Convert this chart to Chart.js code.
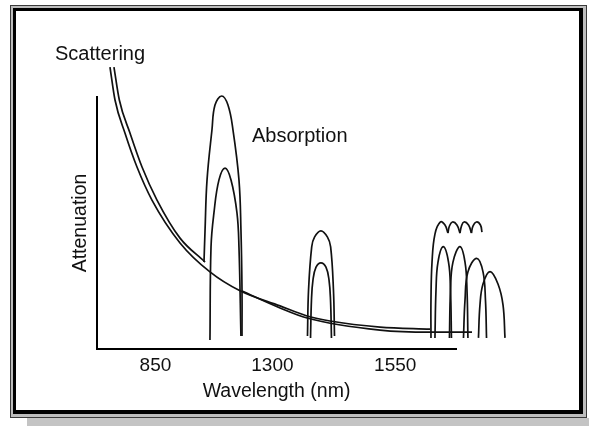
<!DOCTYPE html>
<html>
<head>
<meta charset="utf-8">
<script src="https://cdn.jsdelivr.net/npm/chart.js@4/dist/chart.umd.min.js"></script>
<style>
  html, body { margin: 0; padding: 0; background: #fff; overflow: hidden; }
  #stage { position: relative; width: 589px; height: 426px; }
  .shadow { position: absolute; left: 27px; top: 418px; width: 562px; height: 8px; background: #c4c4c4; }
  .outer { position: absolute; left: 10px; top: 5px; width: 577px; height: 413px; box-sizing: border-box;
           border: 1px solid #3a3a3a; background: #bdbdbd; }
  .inner { position: absolute; left: 13px; top: 8px; width: 570px; height: 406px; box-sizing: border-box;
           border-style: solid; border-color: #000; border-width: 3px 4px 4px 3px; background: #fff; }
  canvas { position: absolute; left: 0; top: 0; }
</style>
</head>
<body>
<div id="stage">
  <div class="shadow"></div>
  <div class="outer"></div>
  <div class="inner"></div>
  <canvas id="c" width="589" height="426"></canvas>
</div>
<script>
// ---- Tick labels (schematic wavelength axis) ----
const tickPositions = [1, 2, 3.05];
const tickLabels = ['850', '1300', '1550'];
const xTitle = 'Wavelength (nm)';
const yTitle = 'Attenuation';
const noteTexts = ['Scattering', 'Absorption'];

// ---- Scattering curves (x: schematic position, y: attenuation, arbitrary units) ----
const scatterUpper = [[0.645,111.9],[0.691,98.8],[0.782,85.7],[0.885,72.2],[1.013,59.1],[1.210,44.0],[1.424,34.5]];
const scatterLower = [[0.611,111.9],[0.654,98.8],[0.739,85.7],[0.842,72.2],[0.970,59.1],[1.210,42.1],[1.466,30.6],[1.723,23.1],[2.065,17.1],[2.296,13.1],[2.492,11.1],[2.920,8.7],[3.348,7.9]];
const scatterTail  = [[1.740,23.0],[2.065,16.3],[2.296,12.3],[2.920,7.5],[3.348,6.7],[3.707,6.7]];

// ---- Absorption peaks ----
const peak1Outer = [[1.415,34.5],[1.424,47.2],[1.441,67.1],[1.483,86.9],[1.509,96.8],[1.566,100.4],[1.620,96.8],[1.663,86.9],[1.714,67.1],[1.731,47.2],[1.740,23.4],[1.740,5.2]];
const peak1Inner = [[1.466,3.6],[1.475,40.5],[1.500,54.0],[1.543,67.1],[1.595,71.8],[1.646,67.1],[1.697,54.0],[1.714,40.5],[1.731,5.2]];
const peak2Outer = [[2.300,5.2],[2.309,23.4],[2.336,40.5],[2.360,44.4],[2.415,46.9],[2.471,44.4],[2.498,40.5],[2.522,23.4],[2.531,5.2]];
const peak2Inner = [[2.326,4.4],[2.334,19.4],[2.347,27.4],[2.373,32.5],[2.415,34.2],[2.458,32.5],[2.484,27.4],[2.497,19.4],[2.505,4.4]];
const bump1 = [[3.356,4.4],[3.356,19.4],[3.365,34.5],[3.390,45.6],[3.437,50.4],[3.476,49.2],[3.501,46.0]];
const bump2 = [[3.501,46.0],[3.514,48.8],[3.540,50.4],[3.578,49.2],[3.604,46.0]];
const bump3 = [[3.604,46.0],[3.617,48.8],[3.638,50.4],[3.677,49.2],[3.702,46.0]];
const bump4 = [[3.702,46.0],[3.715,48.8],[3.745,50.4],[3.779,49.2],[3.792,46.4]];
const irPeak1 = [[3.390,4.4],[3.399,23.4],[3.416,34.5],[3.461,40.6],[3.506,34.5],[3.523,23.4],[3.531,4.4]];
const irPeak2 = [[3.514,4.4],[3.523,23.4],[3.544,34.5],[3.604,40.6],[3.647,34.5],[3.664,23.4],[3.672,4.4]];
const irPeak3 = [[3.634,4.4],[3.647,19.4],[3.672,30.6],[3.747,36.0],[3.801,30.6],[3.822,19.4],[3.831,4.4]];
const irPeak4 = [[3.762,4.4],[3.775,17.5],[3.801,25.8],[3.861,30.7],[3.929,25.8],[3.972,17.5],[3.989,4.4]];

const X_MIN = 0.5, X_MAX = 3.57, Y_MIN = 0, Y_MAX = 100;

const scatterCurves = [scatterUpper, scatterLower, scatterTail];
const peakCurves = [peak1Outer, peak1Inner, peak2Outer, peak2Inner,
  bump1, bump2, bump3, bump4, irPeak1, irPeak2, irPeak3, irPeak4];

const FONT = '"Liberation Sans", Arial, Helvetica, sans-serif';
const INK = '#111';

function makeSet(arr, monotone) {
  return {
    data: arr.map(p => ({ x: p[0], y: p[1] })),
    borderColor: INK,
    borderWidth: 1.7,
    pointRadius: 0,
    tension: 0.4,
    cubicInterpolationMode: monotone ? 'monotone' : 'default',
    fill: false,
    clip: false
  };
}
const datasets = scatterCurves.map(a => makeSet(a, true)).concat(peakCurves.map(a => makeSet(a, false)));

const noteAnchors = [[0.141, 114.7], [1.825, 82.1]];
const notesPlugin = {
  id: 'notes',
  afterDatasetsDraw(chart) {
    const { ctx, scales: { x, y } } = chart;
    ctx.save();
    ctx.font = '20px ' + FONT;
    ctx.fillStyle = INK;
    ctx.textAlign = 'left';
    ctx.textBaseline = 'alphabetic';
    noteTexts.forEach((t, i) => {
      ctx.fillText(t, x.getPixelForValue(noteAnchors[i][0]), y.getPixelForValue(noteAnchors[i][1]));
    });
    ctx.restore();
  }
};

new Chart(document.getElementById('c'), {
  type: 'line',
  data: { datasets },
  plugins: [notesPlugin],
  options: {
    responsive: false,
    animation: false,
    events: [],
    layout: { padding: { top: 97, right: 133, bottom: 0, left: 0 } },
    plugins: { legend: { display: false }, tooltip: { enabled: false } },
    scales: {
      x: {
        type: 'linear',
        bounds: 'data',
        afterDataLimits(s) { s.min = X_MIN; s.max = X_MAX; },
        afterBuildTicks(s) { s.ticks = tickPositions.map(v => ({ value: v })); },
        afterFit(s) { s.height = 77; },
        grid: { display: false, drawTicks: false },
        border: { display: true, color: '#000', width: 2 },
        ticks: {
          autoSkip: false, maxRotation: 0, padding: 5, color: INK,
          font: { family: FONT, size: 19 },
          callback: (v, i) => tickLabels[i]
        },
        title: { display: true, text: xTitle, color: INK, font: { family: FONT, size: 19.5 }, padding: { top: 0, bottom: 23 } }
      },
      y: {
        type: 'linear',
        bounds: 'data',
        afterDataLimits(s) { s.min = Y_MIN; s.max = Y_MAX; },
        afterFit(s) { s.width = 97; },
        grid: { display: false, drawTicks: false },
        border: { display: true, color: '#000', width: 2 },
        ticks: { display: false },
        title: { display: true, text: yTitle, color: INK, font: { family: FONT, size: 19.5 }, padding: { top: 69, bottom: 0 } }
      }
    }
  }
});
</script>
</body>
</html>
